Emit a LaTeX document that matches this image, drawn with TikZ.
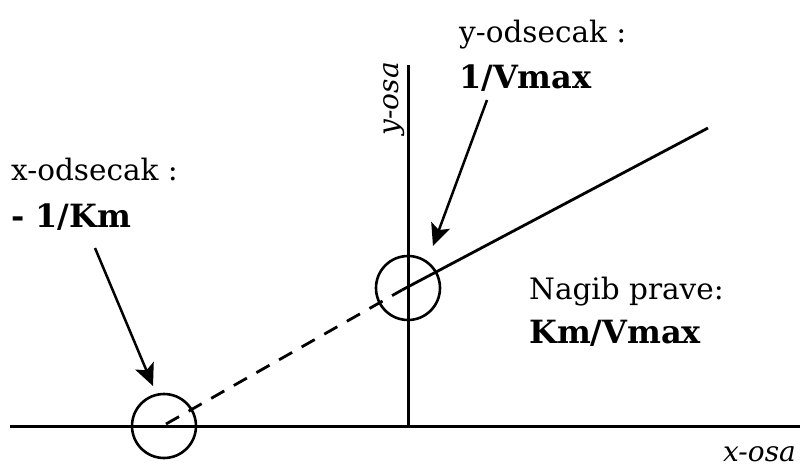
\documentclass[tikz,border=0pt]{standalone}
\usepackage{fontspec}
\setmainfont{DejaVu Serif}
\usetikzlibrary{arrows.meta}
\begin{document}
\begin{tikzpicture}[x=1pt,y=-1pt,
  axis/.style={line width=3pt,black},
  ring/.style={circle,draw,line width=2.6pt,minimum size=64pt,inner sep=0pt},
  lbl/.style={anchor=base west,inner sep=0pt,font=\fontsize{29.5}{33}\selectfont},
  blbl/.style={anchor=base west,inner sep=0pt,font=\fontsize{32}{36}\selectfont\bfseries},
  axlbl/.style={inner sep=0pt,font=\fontsize{28}{32}\selectfont\itshape},
  pointer/.style={line width=2.5pt,-{Stealth[length=22pt,width=20pt,inset=5pt]}}]
\useasboundingbox (0,0) rectangle (800,469);
% axes
\coordinate (xl) at (10,426);
\coordinate (xr) at (800,426);
\coordinate (yb) at (408,426);
\coordinate (yt) at (408,65);
\draw[axis] (xl) -- (xr);
\draw[axis] (yb) -- (yt);
% line
\coordinate (p0) at (166,424);
\coordinate (p1) at (402,290);
\coordinate (p2) at (708,128);
\draw[line width=2.8pt,dash pattern=on 15pt off 11pt] (p0) -- (p1);
\draw[line width=2.8pt] (p1) -- (p2);
% circles
\node[ring] (c1) at (164,426) {};
\node[ring] (c2) at (408,288) {};
% labels
\node[lbl]  (xo)  at (11,180) {x-odsecak :};
\node[blbl] (xk)  at (11,227) {- 1/Km};
\node[lbl]  (yo)  at (459,42) {y-odsecak :};
\node[blbl] (yv)  at (459,88) {1/Vmax};
\node[lbl]  (np)  at (529,299) {Nagib prave:};
\node[blbl] (kv)  at (529,343) {Km/Vmax};
\node[axlbl,anchor=base east] (xa) at (796,461) {x-osa};
\node[axlbl,anchor=base east,rotate=90] (ya) at (398,62) {y-osa};
% pointers
\coordinate (a1s) at (95,248);
\coordinate (a1e) at (153,386);
\coordinate (a2s) at (487,100);
\coordinate (a2e) at (433,246);
\draw[pointer] (a1s) -- (a1e);
\draw[pointer] (a2s) -- (a2e);
\end{tikzpicture}
\end{document}
